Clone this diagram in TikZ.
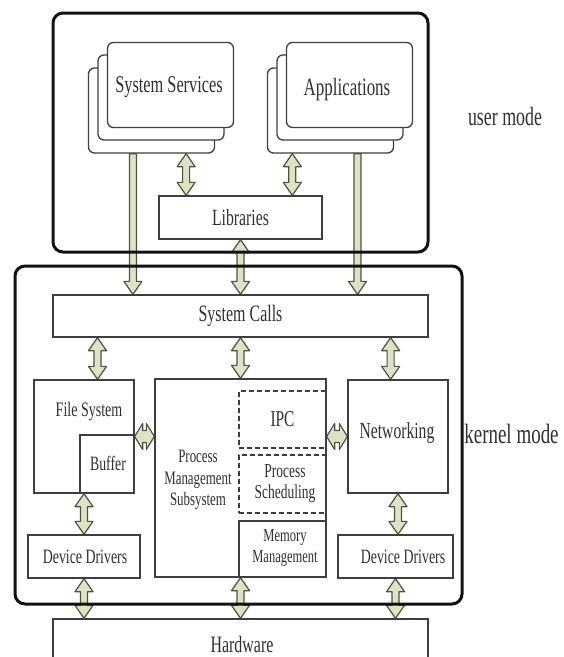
\documentclass[tikz,border=0pt]{standalone}
\usepackage{fontspec}
\setmainfont[FakeStretch=0.68]{Liberation Serif}
\usetikzlibrary{calc}

\definecolor{frame}{RGB}{18,18,18}
\definecolor{boxline}{RGB}{62,62,62}
\definecolor{txt}{RGB}{48,48,48}
\definecolor{flowline}{RGB}{78,82,62}
\definecolor{flowfill}{RGB}{222,226,198}

\pgfdeclarelayer{bg}
\pgfsetlayers{bg,main}

% vertical double-headed block arrow: #1 upper end, #2 gives the lower end's height
\newcommand\dblvarrow[2]{%
  \path[flow] let \p1=(#1), \p2=(#2) in
    (\x1,\y1) -- (\x1+9pt,\y1-13pt) -- (\x1+3.5pt,\y1-13pt) -- (\x1+3.5pt,\y2+13pt)
    -- (\x1+9pt,\y2+13pt) -- (\x1,\y2) -- (\x1-9pt,\y2+13pt) -- (\x1-3.5pt,\y2+13pt)
    -- (\x1-3.5pt,\y1-13pt) -- (\x1-9pt,\y1-13pt) -- cycle;}
% vertical block arrow pointing down only
\newcommand\sglvarrow[2]{%
  \path[flow] let \p1=(#1), \p2=(#2) in
    (\x1-3.5pt,\y1) -- (\x1+3.5pt,\y1) -- (\x1+3.5pt,\y2+13pt)
    -- (\x1+9pt,\y2+13pt) -- (\x1,\y2) -- (\x1-9pt,\y2+13pt) -- (\x1-3.5pt,\y2+13pt) -- cycle;}
% short horizontal double-headed block arrow: #1 left end, #2 gives the right end
\newcommand\dblharrow[2]{%
  \path[flow] let \p1=(#1), \p2=(#2) in
    (\x1,\y1) -- (\x1+8pt,\y1+13pt) -- (\x1+8pt,\y1+6pt) -- (\x2-8pt,\y1+6pt)
    -- (\x2-8pt,\y1+13pt) -- (\x2,\y1) -- (\x2-8pt,\y1-13pt) -- (\x2-8pt,\y1-6pt)
    -- (\x1+8pt,\y1-6pt) -- (\x1+8pt,\y1-13pt) -- cycle;}

\tikzset{
  flow/.style={draw=flowline, fill=flowfill, line width=1.2pt, line join=round},
  box/.style={draw=boxline, line width=1.3pt, fill=white, inner sep=0pt, text=txt},
  stackbox/.style={box, rounded corners=6pt, minimum width=126pt, minimum height=85pt},
  dashbox/.style={draw=boxline, line width=1.8pt, dash pattern=on 5pt off 3pt, inner sep=0pt},
  modeframe/.style={draw=frame, line width=3pt, rounded corners=10pt, inner sep=0pt},
  lbl/.style={text=txt, inner sep=0pt, align=center},
}

\begin{document}
\begin{tikzpicture}[x=1pt,y=-1pt]
\useasboundingbox (0,0) rectangle (564,657);
\clip (0,0) rectangle (564,657);

% user mode
\node[stackbox] (ssb) at (151.5,110.5) {};
\node[stackbox] (ssm) at (161,97.5) {};
\node[stackbox] (ssf) at (170.5,85) {};
\node[lbl, font=\fontsize{24}{25}\selectfont] (sst) at (169,87.5) {System Services};
\node[stackbox] (apb) at (330.5,110.5) {};
\node[stackbox] (apm) at (340,97.5) {};
\node[stackbox] (apf) at (349.5,85) {};
\node[lbl, font=\fontsize{24.9}{26}\selectfont] (apt) at (347,90) {Applications};
\node[box, minimum width=163pt, minimum height=43pt,
      font=\fontsize{23.2}{24}\selectfont] (lib) at (240.5,217.5) {Libraries};
\node[modeframe, minimum width=375pt, minimum height=239pt] (user) at (240.5,132.5) {};
\node[lbl, anchor=base, font=\fontsize{26.3}{27}\selectfont] (usert) at (505,125) {user mode};

% kernel mode
\node[box, minimum width=375pt, minimum height=42pt,
      font=\fontsize{23.5}{25}\selectfont] (sc) at (240.5,316) {System Calls};
\node[box, minimum width=100pt, minimum height=113pt] (fs) at (84,436.5) {};
\node[lbl, font=\fontsize{20.6}{22}\selectfont] (fst) at (89,412) {File System};
\node[box, minimum width=54pt, minimum height=58pt] (buf) at (107,464) {};
\node[lbl, font=\fontsize{20.3}{22}\selectfont] (buft) at (108,463) {Buffer};
\node[box, minimum width=171pt, minimum height=198pt] (pm) at (240.5,478) {};
\node[lbl, font=\fontsize{19}{21.5}\selectfont] (pmt) at (198,480)
  {Process\\Management\\Subsystem};
\node[dashbox, minimum width=87pt, minimum height=57pt,
      font=\fontsize{22.6}{24}\selectfont, text=txt] (ipc) at (282.5,419.5) {IPC};
\node[dashbox, minimum width=87pt, minimum height=58pt] (sched) at (282.5,484) {};
\node[lbl, font=\fontsize{19.8}{21}\selectfont] (schedt) at (285,483.5) {Process\\Scheduling};
\node[box, minimum width=87pt, minimum height=56pt] (mem) at (282.5,549) {};
\node[lbl, font=\fontsize{18.4}{21}\selectfont] (memt) at (285,547.5) {Memory\\Management};
\node[box, minimum width=100pt, minimum height=113pt] (net) at (398,436.5) {};
\node[lbl, font=\fontsize{23}{24}\selectfont] (nett) at (397,433) {Networking};
\node[box, minimum width=112pt, minimum height=43pt] (ddl) at (84,556.5) {};
\node[lbl, font=\fontsize{20.4}{22}\selectfont] (ddlt) at (85,557) {Device Drivers};
\node[box, minimum width=115pt, minimum height=43pt] (ddr) at (395.5,556.5) {};
\node[lbl, font=\fontsize{20.4}{22}\selectfont] (ddrt) at (403,557) {Device Drivers};
\node[modeframe, minimum width=447pt, minimum height=338pt] (kernel) at (238.5,435) {};
\node[lbl, anchor=base, font=\fontsize{27.9}{29}\selectfont] (kernelt) at (511.5,443) {kernel mode};

% hardware
\node[box, minimum width=375pt, minimum height=81pt] (hw) at (240.5,659.5) {};
\node[lbl, font=\fontsize{23.5}{25}\selectfont] (hwt) at (242,644) {Hardware};

% block arrows behind the frames
\begin{pgfonlayer}{bg}
  \dblvarrow{$(ssb.south west)!0.772!(ssb.south east)$}{lib.north}
  \dblvarrow{$(apb.south west)!0.2!(apb.south east)$}{lib.north}
  \sglvarrow{$(ssb.south west)!0.354!(ssb.south east)$}{sc.north}
  \sglvarrow{$(apb.south west)!0.712!(apb.south east)$}{sc.north}
  \dblvarrow{lib.south}{sc.north}
  \dblvarrow{$(sc.south west)!0.12!(sc.south east)$}{fs.north}
  \dblvarrow{sc.south -| pm.north}{pm.north}
  \dblvarrow{$(sc.south west)!0.899!(sc.south east)$}{net.north}
  \dblvarrow{fs.south}{ddl.north}
  \dblvarrow{net.south}{ddr.north}
  \dblvarrow{ddl.south}{hw.north}
  \dblvarrow{pm.south}{hw.north}
  \dblvarrow{ddr.south}{hw.north}
  \dblharrow{fs.east}{pm.west}
  \dblharrow{net.west -| pm.east}{net.west}
\end{pgfonlayer}
\end{tikzpicture}
\end{document}
